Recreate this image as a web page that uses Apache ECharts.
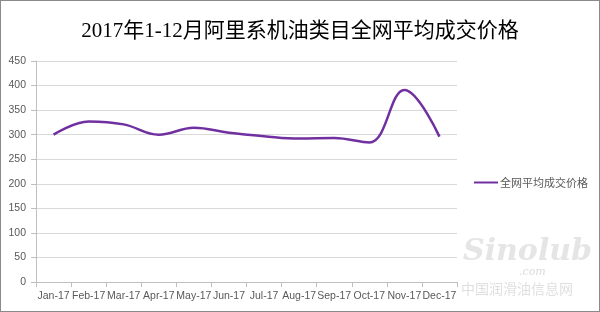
<!DOCTYPE html>
<html><head><meta charset="utf-8">
<script src="https://cdn.jsdelivr.net/npm/echarts@6/dist/echarts.min.js"></script>
<style>html,body{margin:0;padding:0;background:#fff}#c{width:600px;height:312px;box-sizing:border-box;border:1px solid #8a8a8a}</style>
</head><body><div id="c"></div>
<script>
const title = '2017年1-12月阿里系机油类目全网平均成交价格';
const seriesName = '全网平均成交价格';
const categories = ['Jan-17','Feb-17','Mar-17','Apr-17','May-17','Jun-17','Jul-17','Aug-17','Sep-17','Oct-17','Nov-17','Dec-17'];
const values = [300, 327, 321, 300, 314, 304, 297, 292, 293, 284, 391, 296];
const yTicks = {min: 0, max: 450, interval: 50};

const chart = echarts.init(document.getElementById('c'), null, {renderer: 'canvas'});
chart.setOption({
  animation: false,
  backgroundColor: '#fff',
  title: {
    text: title, left: 'center', top: 15,
    textStyle: {fontFamily: '"Liberation Serif","Noto Sans CJK SC",serif', fontSize: 21, fontWeight: 'normal', color: '#000'}
  },
  legend: {
    orient: 'vertical', left: 468, top: 171, itemWidth: 24, itemHeight: 10, itemGap: 4,
    icon: 'path://M0,4 L24,4 L24,6 L0,6 Z',
    textStyle: {fontFamily: '"Noto Sans CJK SC",sans-serif', fontSize: 11, color: '#595959', padding: [0,0,0,-3]},
    data: [{name: seriesName}]
  },
  grid: {left: 35, right: 142, top: 60, bottom: 29, containLabel: false},
  xAxis: {
    type: 'category', data: categories, boundaryGap: true,
    axisLine: {lineStyle: {color: '#bfbfbf'}},
    axisTick: {show: true, length: 5, lineStyle: {color: '#bfbfbf'}},
    axisLabel: {color: '#595959', fontSize: 10.5, fontFamily: '"Liberation Sans",Arial,sans-serif', margin: 9, interval: 0}
  },
  yAxis: {
    type: 'value', min: yTicks.min, max: yTicks.max, interval: yTicks.interval,
    axisLine: {show: true, lineStyle: {color: '#bfbfbf'}},
    axisTick: {show: true, length: 5, lineStyle: {color: '#bfbfbf'}},
    axisLabel: {color: '#595959', fontSize: 10.5, fontFamily: '"Liberation Sans",Arial,sans-serif', margin: 10},
    splitLine: {lineStyle: {color: '#d9d9d9'}}
  },
  series: [{
    name: seriesName, type: 'line', data: values, smooth: 0.4, showSymbol: false, symbol: 'none',
    lineStyle: {color: '#7030A0', width: 2.5}, itemStyle: {color: '#7030A0'}
  }],
  graphic: [
    {type: 'text', left: 462, top: 236, style: {text: 'Sinolub', font: 'italic bold 30px "DejaVu Serif",serif', fill: 'rgba(225,225,225,0.85)'}},
    {type: 'text', left: 518, top: 266, style: {text: '.com', font: 'italic 11px "DejaVu Serif",serif', fill: 'rgba(215,215,215,0.9)'}},
    {type: 'text', left: 460, top: 281, style: {text: '中国润滑油信息网', font: '14px "Noto Sans CJK SC",sans-serif', fill: 'rgba(220,220,220,0.9)'}}
  ]
});
</script></body></html>
